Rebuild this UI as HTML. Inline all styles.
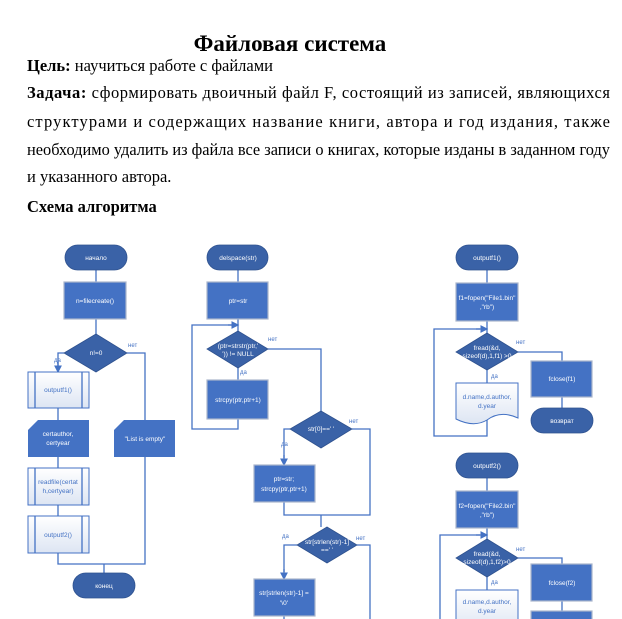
<!DOCTYPE html>
<html><head><meta charset="utf-8"><style>
html,body{margin:0;padding:0;background:#fff;width:622px;height:619px;overflow:hidden}
svg{display:block}
.t{font-family:"Liberation Serif",serif;font-size:16.5px;fill:#000}
.b{font-weight:bold}
.n{font-family:"Liberation Sans",sans-serif;font-size:6.5px;fill:#fff;text-anchor:middle}
.nb{font-family:"Liberation Sans",sans-serif;font-size:6.5px;fill:#4472c4;text-anchor:middle}
.l{font-family:"Liberation Sans",sans-serif;font-size:6px;fill:#4472c4}
.ln{stroke:#4472c4;stroke-width:1.3;fill:none}
.dk{fill:#3a62a7;stroke:#2f528f;stroke-width:.8}
.bx{fill:#4472c4;stroke:#aab6cc;stroke-width:1.2}
.wh{fill:url(#g);stroke:#4472c4;stroke-width:1}
</style></head><body>
<svg width="622" height="619" viewBox="0 0 622 619" xmlns="http://www.w3.org/2000/svg">
<defs>
<linearGradient id="g" x1="0" y1="0" x2="0" y2="1"><stop offset="0" stop-color="#fff"/><stop offset="1" stop-color="#dde5f3"/></linearGradient>
<marker id="a" markerWidth="6" markerHeight="6" refX="5" refY="3" orient="auto"><path d="M0,0 L6,3 L0,6z" fill="#4472c4"/></marker>
</defs>
<text x="290" y="51" class="t b" style="font-size:23px" text-anchor="middle">Файловая система</text>
<text x="27" y="71" class="t"><tspan class="b">Цель:</tspan> научиться работе с файлами</text>
<text x="27" y="98" class="t" textLength="583" lengthAdjust="spacing"><tspan class="b">Задача:</tspan> сформировать двоичный файл F, состоящий из записей, являющихся</text>
<text x="27" y="127" class="t" textLength="583" lengthAdjust="spacing">структурами и содержащих название книги, автора и год издания, также</text>
<text x="27" y="155" class="t" textLength="583" lengthAdjust="spacingAndGlyphs">необходимо удалить из файла все записи о книгах, которые изданы в заданном году</text>
<text x="27" y="182" class="t">и указанного автора.</text>
<text x="27" y="212" class="t b">Схема алгоритма</text>

<!-- Column 1 -->
<path class="ln" d="M96,270V282 M96,319V334 M127,353H145V420 M64,353H58V372 M58,408V420 M58,457V468 M58,505V516 M58,553V564H145V457 M104,564V573"/>
<path class="ln" d="M58,362V372" marker-end="url(#a)"/>
<rect class="dk" x="65" y="245" width="62" height="25" rx="12.5"/><text class="n" x="96" y="260">начало</text>
<rect class="bx" x="64" y="282" width="62" height="37"/><text class="n" x="95" y="303">n=filecreate()</text>
<path class="dk" d="M96,334L127,353L96,372L64,353z"/><text class="n" x="96" y="355">n!=0</text>
<text class="l" x="128" y="347">нет</text><text class="l" x="54" y="362">да</text>
<rect class="wh" x="28" y="372" width="61" height="36"/><path class="ln" d="M35,372V408M82,372V408"/><text class="nb" x="58" y="392">outputf1()</text>
<path d="M28,430L38,420H89V457H28z" fill="#4472c4"/><text class="n" x="58" y="436">certauthor,</text><text class="n" x="58" y="445">certyear</text>
<path d="M114,430L124,420H175V457H114z" fill="#4472c4"/><text class="n" x="145" y="441">"List is empty"</text>
<rect class="wh" x="28" y="468" width="61" height="37"/><path class="ln" d="M35,468V505M82,468V505"/><text class="nb" x="58" y="484">readfile(certat</text><text class="nb" x="58" y="493">h,certyear)</text>
<rect class="wh" x="28" y="516" width="61" height="37"/><path class="ln" d="M35,516V553M82,516V553"/><text class="nb" x="58" y="537">outputf2()</text>
<rect class="dk" x="73" y="573" width="62" height="25" rx="12.5"/><text class="n" x="104" y="588">конец</text>

<!-- Column 2 -->
<path class="ln" d="M238,270V282 M238,319V331 M238,368V380 M238,419V429H192V325H232 M268,349H321V411 M352,429H370V515H284V502 M290,429H284V458 M321,515V527 M297,545H284V572 M357,545H370V619 M284,616V619"/>
<path class="ln" d="M228,325H238" marker-end="url(#a)"/>
<path class="ln" d="M284,455V465" marker-end="url(#a)"/>
<path class="ln" d="M284,569V579" marker-end="url(#a)"/>
<rect class="dk" x="207" y="245" width="61" height="25" rx="12.5"/><text class="n" x="238" y="260">delspace(str)</text>
<rect class="bx" x="207" y="282" width="61" height="37"/><text class="n" x="238" y="303">ptr=str</text>
<path class="dk" d="M238,331L268,349L238,368L207,349z"/><text class="n" x="238" y="348">(ptr=strstr(ptr,'</text><text class="n" x="238" y="356">')) != NULL</text>
<text class="l" x="268" y="341">нет</text><text class="l" x="240" y="374">да</text>
<rect class="bx" x="207" y="380" width="61" height="39"/><text class="n" x="238" y="402">strcpy(ptr,ptr+1)</text>
<path class="dk" d="M321,411L352,429L321,448L290,429z"/><text class="n" x="321" y="431">str[0]==' '</text>
<text class="l" x="349" y="423">нет</text><text class="l" x="281" y="446">да</text>
<rect class="bx" x="254" y="465" width="61" height="37"/><text class="n" x="284" y="481">ptr=str;</text><text class="n" x="284" y="491">strcpy(ptr,ptr+1)</text>
<path class="dk" d="M327,527L357,545L327,563L297,545z"/><text class="n" x="327" y="544">str[strlen(str)-1]</text><text class="n" x="327" y="552">==' '</text>
<text class="l" x="282" y="538">да</text><text class="l" x="356" y="540">нет</text>
<rect class="bx" x="254" y="579" width="61" height="37"/><text class="n" x="284" y="595">str[strlen(str)-1] =</text><text class="n" x="284" y="605">'\0'</text>

<!-- Column 3 -->
<path class="ln" d="M487,270V283 M487,321V333 M518,352H562V361 M562,397V408 M487,370V383 M487,418V436H434V329H480 M487,478V491 M487,528V539 M518,558H562V564 M487,577V590 M440,619V535H480 M562,601V611"/>
<path class="ln" d="M476,329H487" marker-end="url(#a)"/>
<path class="ln" d="M476,535H487" marker-end="url(#a)"/>
<rect class="dk" x="456" y="245" width="62" height="25" rx="12.5"/><text class="n" x="487" y="260">outputf1()</text>
<rect class="bx" x="456" y="283" width="62" height="38"/><text class="n" x="487" y="300">f1=fopen("File1.bin"</text><text class="n" x="487" y="309">,"rb")</text>
<path class="dk" d="M487,333L518,352L487,370L456,352z"/><text class="n" x="487" y="350">fread(&amp;d,</text><text class="n" x="487" y="358">sizeof(d),1,f1) &gt;0</text>
<text class="l" x="516" y="344">нет</text><text class="l" x="491" y="378">да</text>
<path class="wh" d="M456,383H518V418C505,412 495,414 487,420C477,426 466,424 456,419z"/><text class="nb" x="487" y="399">d.name,d.author,</text><text class="nb" x="487" y="408">d.year</text>
<rect class="bx" x="531" y="361" width="61" height="36"/><text class="n" x="562" y="381">fclose(f1)</text>
<rect class="dk" x="531" y="408" width="62" height="25" rx="12.5"/><text class="n" x="562" y="423">возврат</text>
<rect class="dk" x="456" y="453" width="62" height="25" rx="12.5"/><text class="n" x="487" y="468">outputf2()</text>
<rect class="bx" x="456" y="491" width="62" height="37"/><text class="n" x="487" y="508">f2=fopen("File2.bin"</text><text class="n" x="487" y="517">,"rb")</text>
<path class="dk" d="M487,539L518,558L487,577L456,558z"/><text class="n" x="487" y="556">fread(&amp;d,</text><text class="n" x="487" y="564">sizeof(d),1,f2)&gt;0</text>
<text class="l" x="516" y="551">нет</text><text class="l" x="491" y="584">да</text>
<path class="wh" d="M456,590H518V626C505,620 495,622 487,628C477,634 466,632 456,627z"/><text class="nb" x="487" y="604">d.name,d.author,</text><text class="nb" x="487" y="613">d.year</text>
<rect class="bx" x="531" y="564" width="61" height="37"/><text class="n" x="562" y="585">fclose(f2)</text>
<rect class="bx" x="531" y="611" width="61" height="20"/>
</svg>
</body></html>
